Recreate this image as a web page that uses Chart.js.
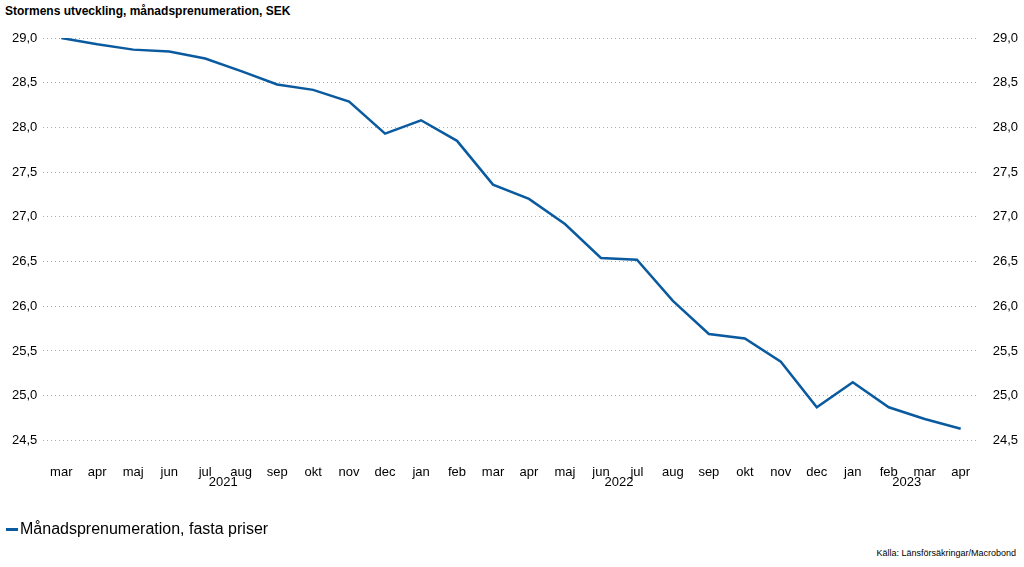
<!DOCTYPE html>
<html><head><meta charset="utf-8">
<script src="https://cdn.jsdelivr.net/npm/chart.js@4"></script>
<style>
body{margin:0;background:#fff;font-family:"Liberation Sans",Arial,sans-serif;}
#wrap{position:relative;width:1024px;height:567px;}
#title{position:absolute;left:5px;top:4px;font-size:12px;font-weight:bold;color:#000;}
#legend{position:absolute;left:6px;top:520px;font-size:16px;color:#000;}
#legend span{display:inline-block;width:12px;height:3px;background:#0a5aa0;vertical-align:middle;margin-right:2px;}
#src{position:absolute;right:8px;top:548px;font-size:9px;color:#000;}
</style></head>
<body><div id="wrap">
<div id="title">Stormens utveckling, månadsprenumeration, SEK</div>
<canvas id="c" width="1024" height="510" style="position:absolute;left:0;top:20px;"></canvas>
<div id="legend"><span></span>Månadsprenumeration, fasta priser</div>
<div id="src">Källa: Länsförsäkringar/Macrobond</div>
</div>
<script>
const months = ['mar','apr','maj','jun','jul','aug','sep','okt','nov','dec','jan','feb','mar','apr','maj','jun','jul','aug','sep','okt','nov','dec','jan','feb','mar','apr'];
const years = [{label:'2021', from:0, to:9},{label:'2022', from:10, to:21},{label:'2023', from:22, to:25}];
const values = [29.0,28.93,28.87,28.85,28.77,28.63,28.48,28.42,28.29,27.93,28.08,27.85,27.36,27.20,26.92,26.54,26.52,26.06,25.69,25.64,25.38,24.87,25.15,24.87,24.74,24.63];
const yTicks = [24.5,25,25.5,26,26.5,27,27.5,28,28.5,29];

const yearPlugin = {
  id:'years',
  afterDraw(chart){
    const x = chart.scales.x, c = chart.ctx;
    c.save();
    c.font = '13px "Liberation Sans", Arial';
    c.fillStyle = '#000'; c.textAlign = 'center'; c.textBaseline = 'top';
    years.forEach(y => {
      const px = (x.getPixelForValue(y.from) + x.getPixelForValue(y.to)) / 2;
      c.fillText(y.label, px, x.top + 36);
    });
    c.restore();
  }
};
const fmt = v => v.toFixed(1).replace('.', ',');
const tickFont = {family:'"Liberation Sans", Arial', size:13};
new Chart(document.getElementById('c'), {
  type:'line',
  data:{labels:months, datasets:[{data:values, borderColor:'#0a5aa0', borderWidth:2.5, pointRadius:0, tension:0}]},
  options:{
    responsive:false, animation:false,
    layout:{padding:{left:6,right:0,top:18,bottom:34}},
    plugins:{legend:{display:false}, tooltip:{enabled:false}},
    scales:{
      x:{offset:true, grid:{display:false}, border:{display:false},
         ticks:{color:'#000', font:tickFont, maxRotation:0, autoSkip:false, padding:16}},
      y:{min:24.5, max:29.0, afterBuildTicks(a){a.ticks=yTicks.map(v=>({value:v}));},
         position:'left', border:{display:false, dash:[1,3]},
         grid:{color:'#aaa', drawTicks:false, lineWidth:1},
         ticks:{color:'#000', font:tickFont, callback:fmt, padding:6}},
      y2:{min:24.5, max:29.0, afterBuildTicks(a){a.ticks=yTicks.map(v=>({value:v}));},
         position:'right', border:{display:false}, grid:{display:false},
         ticks:{color:'#000', font:tickFont, callback:fmt, padding:6}}
    }
  },
  plugins:[yearPlugin]
});
</script></body></html>
